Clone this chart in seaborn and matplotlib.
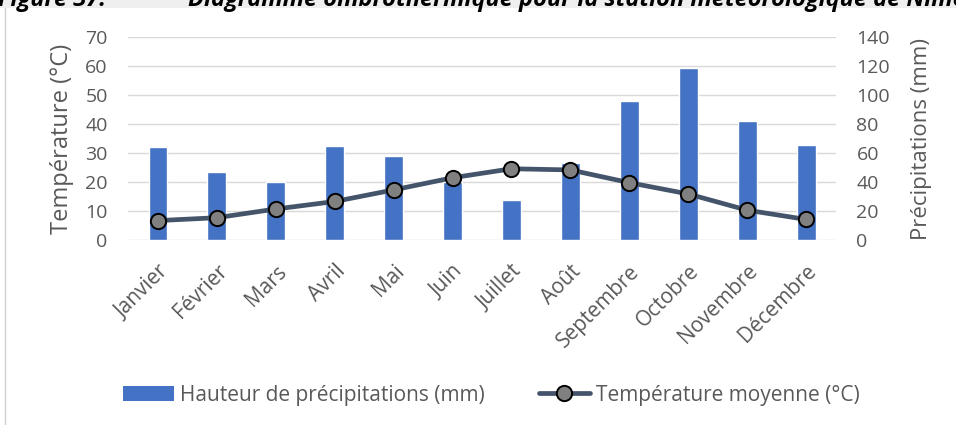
import matplotlib
matplotlib.use('Agg')
import matplotlib.pyplot as plt
import matplotlib.patches as mpatches
from matplotlib.lines import Line2D
import seaborn as sns
import pandas as pd

months = ['Janvier', 'Février', 'Mars', 'Avril', 'Mai', 'Juin',
          'Juillet', 'Août', 'Septembre', 'Octobre', 'Novembre', 'Décembre']
precip_mm = [64, 47, 40, 64.6, 58, 40, 27.6, 53, 96, 118.5, 82.5, 65.3]
temp_c = [6.7, 7.7, 10.7, 13.3, 17.3, 21.5, 24.6, 24.2, 19.8, 15.9, 10.3, 7.1]

temp_ticks = [0, 10, 20, 30, 40, 50, 60, 70]
precip_ticks = [0, 20, 40, 60, 80, 100, 120, 140]

BAR_COLOR = '#4472C4'
LINE_COLOR = '#44546A'
TEXT_COLOR = '#595959'
GRID_COLOR = '#D9D9D9'
FONTS = ['Open Sans', 'Lato', 'DejaVu Sans']


def build_frame():
    return pd.DataFrame({'Mois': months, 'Precip': precip_mm, 'Temp': temp_c})


def draw(df):
    sns.set_style('white')
    plt.rcParams['font.family'] = FONTS

    fig = plt.figure(figsize=(9.56, 4.25), dpi=100)
    ax = fig.add_axes([0.1344, 0.4353, 0.7396, 0.4769])
    ax2 = ax.twinx()

    sns.barplot(data=df, x='Mois', y='Precip', ax=ax, color=BAR_COLOR,
                width=0.32, saturation=1)
    sns.lineplot(data=df, x='Mois', y='Temp', ax=ax2, sort=False,
                 color=LINE_COLOR, linewidth=3.4, marker='o', markersize=11,
                 markerfacecolor='#808080', markeredgecolor='black',
                 markeredgewidth=1.4)

    ax.set_ylim(0, 140)
    ax2.set_ylim(0, 70)
    ax.set_yticks(precip_ticks)
    ax2.set_yticks(temp_ticks)
    ax.set_xlim(-0.5, len(months) - 0.5)

    # precipitation axis on the right, temperature on the left (Excel style)
    ax.yaxis.tick_right()
    ax.yaxis.set_label_position('right')
    ax2.yaxis.tick_left()
    ax2.yaxis.set_label_position('left')

    ax.grid(True, axis='y', color=GRID_COLOR, linewidth=1.0)
    ax.set_axisbelow(True)

    for a in (ax, ax2):
        for side in ['top', 'left', 'right', 'bottom']:
            a.spines[side].set_visible(False)
        a.tick_params(length=0, colors=TEXT_COLOR, labelsize=14, pad=15)
        a.set_xlabel('')

    ax.set_ylabel('Précipitations (mm)', color=TEXT_COLOR, fontsize=16, labelpad=15)
    ax2.set_ylabel('Température (°C)', color=TEXT_COLOR, fontsize=17, labelpad=8)

    ax.tick_params(axis='x', pad=15)
    plt.setp(ax.get_xticklabels(), rotation=45, ha='right', va='top',
             rotation_mode='anchor', fontsize=15)
    ax2.tick_params(axis='x', labelbottom=False)

    handles = [
        mpatches.Patch(facecolor=BAR_COLOR, edgecolor='none',
                       label='Hauteur de précipitations (mm)'),
        Line2D([], [], color=LINE_COLOR, linewidth=3.4, marker='o',
               markersize=11, markerfacecolor='#808080',
               markeredgecolor='black', markeredgewidth=1.4,
               label='Température moyenne (°C)'),
    ]
    leg = fig.legend(handles=handles, loc='center', bbox_to_anchor=(0.514, 0.07),
                     ncol=2, frameon=False, fontsize=15, handlelength=2.45,
                     handleheight=0.7, handletextpad=0.28, columnspacing=2.6)
    for text in leg.get_texts():
        text.set_color(TEXT_COLOR)

    # page band and chart frame around the figure
    fig.patches.append(mpatches.Rectangle((0, 1 - 8 / 425), 1, 8 / 425,
                                          transform=fig.transFigure,
                                          facecolor='#EFEFEF', edgecolor='none',
                                          zorder=0))
    fig.add_artist(Line2D([4.5 / 956, 4.5 / 956], [0, 1 - 8 / 425],
                          transform=fig.transFigure, color='#D0D0D0', linewidth=1))
    title_kw = dict(fontsize=17, fontweight='bold', fontstyle='italic',
                    color='black', va='baseline')
    fig.text(106 / 956, 1 - 6 / 425, 'Figure 37:', ha='right', **title_kw)
    fig.text(188 / 956, 1 - 6 / 425,
             'Diagramme ombrothermique pour la station météorologique de Nîmes',
             ha='left', **title_kw)

    fig.savefig('out.png', dpi=100, facecolor='white')


draw(build_frame())
